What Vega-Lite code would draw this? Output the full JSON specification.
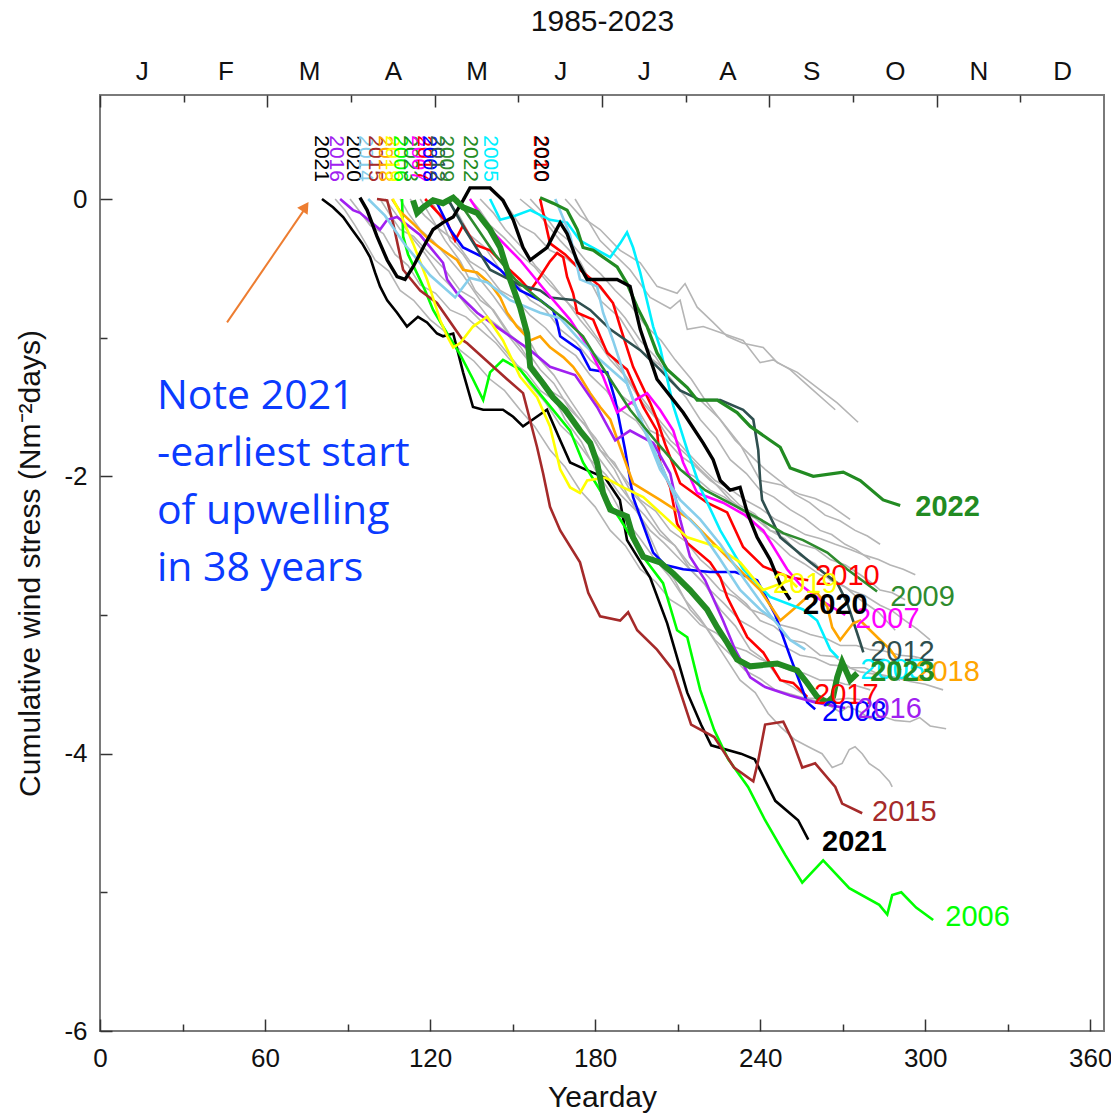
{
  "$schema": "https://vega.github.io/schema/vega-lite/v6.json",
  "width": 1004,
  "height": 936,
  "autosize": "none",
  "padding": {"left": 100, "top": 95, "right": 7, "bottom": 85},
  "background": "white",
  "config": {
    "view": {"stroke": "#7a7a7a", "strokeWidth": 2},
    "axis": {"grid": false, "domain": false, "tickColor": "#333333", "tickWidth": 1.5, "labelFont": "Liberation Sans Narrow, Liberation Sans", "labelFontSize": 26, "labelColor": "#111111", "titleFont": "Liberation Sans Narrow, Liberation Sans", "titleFontSize": 30, "titleFontWeight": "normal", "titleColor": "#111111", "labelOverlap": false, "labelFlush": false}
  },
  "datasets": {
    "lines": [
      {"year":"1989","day":169.1,"v":0},{"year":"1989","day":174.5,"v":-0.12},{"year":"1989","day":181.8,"v":-0.22},{"year":"1989","day":189.1,"v":-0.37},{"year":"1989","day":196.4,"v":-0.46},{"year":"1989","day":202.5,"v":-0.63},{"year":"1989","day":209.8,"v":-0.68},{"year":"1989","day":212.7,"v":-0.61},{"year":"1989","day":217.1,"v":-0.78},{"year":"1989","day":222.9,"v":-0.89},{"year":"1989","day":228,"v":-0.99},{"year":"1989","day":233.8,"v":-1.04},{"year":"1989","day":241.1,"v":-1.07},{"year":"1989","day":246.2,"v":-1.18},{"year":"1989","day":253.5,"v":-1.25},{"year":"1989","day":260.7,"v":-1.36},{"year":"1989","day":268,"v":-1.47},{"year":"1989","day":275.6,"v":-1.61},
      {"year":"1997","day":172.7,"v":0},{"year":"1997","day":181.8,"v":-0.3},{"year":"1997","day":192.7,"v":-0.51},{"year":"1997","day":200,"v":-0.71},{"year":"1997","day":207.3,"v":-0.79},{"year":"1997","day":210.9,"v":-0.73},{"year":"1997","day":213.5,"v":-0.94},{"year":"1997","day":219.3,"v":-0.92},{"year":"1997","day":226.5,"v":-0.97},{"year":"1997","day":233.8,"v":-1.02},{"year":"1997","day":240,"v":-1.18},{"year":"1997","day":244.7,"v":-1.16},{"year":"1997","day":250.9,"v":-1.23},{"year":"1997","day":258.2,"v":-1.36},{"year":"1997","day":267.3,"v":-1.52},
      {"year":"1995","day":152.7,"v":0},{"year":"1995","day":160,"v":-0.12},{"year":"1995","day":167.3,"v":-0.3},{"year":"1995","day":174.5,"v":-0.45},{"year":"1995","day":181.8,"v":-0.73},{"year":"1995","day":189.1,"v":-0.86},{"year":"1995","day":196.4,"v":-1.09},{"year":"1995","day":203.6,"v":-1.2},{"year":"1995","day":210.9,"v":-1.38},{"year":"1995","day":218.2,"v":-1.45},{"year":"1995","day":225.5,"v":-1.59},{"year":"1995","day":232.7,"v":-1.77},{"year":"1995","day":240,"v":-2.03},{"year":"1995","day":247.3,"v":-2.06},{"year":"1995","day":254.5,"v":-2.13},{"year":"1995","day":260,"v":-2.16},{"year":"1995","day":265.5,"v":-2.21},{"year":"1995","day":272.7,"v":-2.31},
      {"year":"1986","day":120,"v":0},{"year":"1986","day":123.5,"v":-0.12},{"year":"1986","day":127.3,"v":-0.3},{"year":"1986","day":132,"v":-0.4},{"year":"1986","day":138.2,"v":-0.58},{"year":"1986","day":143,"v":-0.7},{"year":"1986","day":149.1,"v":-0.87},{"year":"1986","day":154,"v":-0.95},{"year":"1986","day":160,"v":-1.16},{"year":"1986","day":165,"v":-1.27},{"year":"1986","day":170.9,"v":-1.45},{"year":"1986","day":176,"v":-1.6},{"year":"1986","day":181.8,"v":-1.81},{"year":"1986","day":187,"v":-1.95},{"year":"1986","day":192.7,"v":-2.17},{"year":"1986","day":198,"v":-2.35},{"year":"1986","day":203.6,"v":-2.6},{"year":"1986","day":209,"v":-2.75},{"year":"1986","day":214.5,"v":-2.96},{"year":"1986","day":220,"v":-3.08},{"year":"1986","day":225.5,"v":-3.25},{"year":"1986","day":232.7,"v":-3.47},{"year":"1986","day":238.2,"v":-3.56},{"year":"1986","day":242.9,"v":-3.71},{"year":"1986","day":247.6,"v":-3.81},{"year":"1986","day":252.7,"v":-3.9},{"year":"1986","day":257.5,"v":-3.95},{"year":"1986","day":262.5,"v":-4.0},{"year":"1986","day":266.2,"v":-4.1},{"year":"1986","day":269.8,"v":-4.07},{"year":"1986","day":272.4,"v":-3.97},{"year":"1986","day":274.5,"v":-3.95},{"year":"1986","day":277.1,"v":-4.0},{"year":"1986","day":279.6,"v":-4.07},{"year":"1986","day":283.3,"v":-4.12},{"year":"1986","day":287,"v":-4.2},{"year":"1986","day":288,"v":-4.24},
      {"year":"1990","day":109.1,"v":0},{"year":"1990","day":112,"v":-0.1},{"year":"1990","day":116.4,"v":-0.22},{"year":"1990","day":121,"v":-0.3},{"year":"1990","day":127.3,"v":-0.44},{"year":"1990","day":132,"v":-0.55},{"year":"1990","day":138.2,"v":-0.73},{"year":"1990","day":143,"v":-0.8},{"year":"1990","day":149.1,"v":-0.98},{"year":"1990","day":154,"v":-1.06},{"year":"1990","day":160,"v":-1.23},{"year":"1990","day":165,"v":-1.33},{"year":"1990","day":170.9,"v":-1.52},{"year":"1990","day":176,"v":-1.62},{"year":"1990","day":181.8,"v":-1.81},{"year":"1990","day":187,"v":-1.9},{"year":"1990","day":192.7,"v":-2.1},{"year":"1990","day":198,"v":-2.22},{"year":"1990","day":203.6,"v":-2.39},{"year":"1990","day":209,"v":-2.5},{"year":"1990","day":214.5,"v":-2.67},{"year":"1990","day":220,"v":-2.78},{"year":"1990","day":225.5,"v":-2.96},{"year":"1990","day":231,"v":-3.08},{"year":"1990","day":236.4,"v":-3.25},{"year":"1990","day":242,"v":-3.33},{"year":"1990","day":247.3,"v":-3.47},{"year":"1990","day":252,"v":-3.52},{"year":"1990","day":258.2,"v":-3.61},{"year":"1990","day":263,"v":-3.63},{"year":"1990","day":269.1,"v":-3.7},{"year":"1990","day":272,"v":-3.66},{"year":"1990","day":276.4,"v":-3.7},{"year":"1990","day":280,"v":-3.75},{"year":"1990","day":284.4,"v":-3.73},{"year":"1990","day":289,"v":-3.76},{"year":"1990","day":294.5,"v":-3.77},{"year":"1990","day":298,"v":-3.74},{"year":"1990","day":301.8,"v":-3.8},{"year":"1990","day":307.6,"v":-3.82},
      {"year":"1987","day":101.8,"v":0},{"year":"1987","day":105,"v":-0.1},{"year":"1987","day":109.1,"v":-0.22},{"year":"1987","day":114,"v":-0.27},{"year":"1987","day":120,"v":-0.4},{"year":"1987","day":125,"v":-0.5},{"year":"1987","day":130.9,"v":-0.66},{"year":"1987","day":136,"v":-0.72},{"year":"1987","day":141.8,"v":-0.87},{"year":"1987","day":147,"v":-0.95},{"year":"1987","day":152.7,"v":-1.09},{"year":"1987","day":158,"v":-1.22},{"year":"1987","day":163.6,"v":-1.38},{"year":"1987","day":169,"v":-1.45},{"year":"1987","day":174.5,"v":-1.59},{"year":"1987","day":180,"v":-1.72},{"year":"1987","day":185.5,"v":-1.88},{"year":"1987","day":191,"v":-2.02},{"year":"1987","day":196.4,"v":-2.17},{"year":"1987","day":202,"v":-2.25},{"year":"1987","day":207.3,"v":-2.39},{"year":"1987","day":213,"v":-2.47},{"year":"1987","day":218.2,"v":-2.6},{"year":"1987","day":224,"v":-2.7},{"year":"1987","day":229.1,"v":-2.82},{"year":"1987","day":235,"v":-2.92},{"year":"1987","day":240,"v":-3.04},{"year":"1987","day":245,"v":-3.08},{"year":"1987","day":250.9,"v":-3.18},{"year":"1987","day":256,"v":-3.2},{"year":"1987","day":261.8,"v":-3.29},{"year":"1987","day":267,"v":-3.3},{"year":"1987","day":272.7,"v":-3.38},{"year":"1987","day":278,"v":-3.38},{"year":"1987","day":283.6,"v":-3.43},{"year":"1987","day":289,"v":-3.45},{"year":"1987","day":294.5,"v":-3.48},{"year":"1987","day":300,"v":-3.5},{"year":"1987","day":306.5,"v":-3.54},
      {"year":"1992","day":112.7,"v":0},{"year":"1992","day":118,"v":-0.12},{"year":"1992","day":123.6,"v":-0.22},{"year":"1992","day":129,"v":-0.3},{"year":"1992","day":134.5,"v":-0.45},{"year":"1992","day":140,"v":-0.52},{"year":"1992","day":145.5,"v":-0.66},{"year":"1992","day":151,"v":-0.72},{"year":"1992","day":156.4,"v":-0.84},{"year":"1992","day":162,"v":-0.93},{"year":"1992","day":167.3,"v":-1.05},{"year":"1992","day":173,"v":-1.13},{"year":"1992","day":178.2,"v":-1.27},{"year":"1992","day":184,"v":-1.38},{"year":"1992","day":189.1,"v":-1.52},{"year":"1992","day":195,"v":-1.6},{"year":"1992","day":200,"v":-1.74},{"year":"1992","day":205,"v":-1.82},{"year":"1992","day":210.9,"v":-1.95},{"year":"1992","day":216,"v":-2.0},{"year":"1992","day":221.8,"v":-2.1},{"year":"1992","day":227,"v":-2.15},{"year":"1992","day":232.7,"v":-2.24},{"year":"1992","day":238,"v":-2.3},{"year":"1992","day":243.6,"v":-2.39},{"year":"1992","day":249,"v":-2.42},{"year":"1992","day":254.5,"v":-2.49},{"year":"1992","day":260,"v":-2.52},{"year":"1992","day":265.5,"v":-2.6},{"year":"1992","day":271,"v":-2.64},{"year":"1992","day":276.4,"v":-2.71},{"year":"1992","day":280,"v":-2.76},{"year":"1992","day":283.6,"v":-2.82},{"year":"1992","day":288,"v":-2.84},{"year":"1992","day":292.7,"v":-2.89},
      {"year":"1999","day":125.5,"v":0},{"year":"1999","day":130,"v":-0.1},{"year":"1999","day":134.5,"v":-0.26},{"year":"1999","day":140,"v":-0.35},{"year":"1999","day":145.5,"v":-0.51},{"year":"1999","day":151,"v":-0.6},{"year":"1999","day":156.4,"v":-0.73},{"year":"1999","day":162,"v":-0.8},{"year":"1999","day":167.3,"v":-0.94},{"year":"1999","day":173,"v":-1.03},{"year":"1999","day":178.2,"v":-1.16},{"year":"1999","day":184,"v":-1.26},{"year":"1999","day":189.1,"v":-1.41},{"year":"1999","day":195,"v":-1.5},{"year":"1999","day":200,"v":-1.67},{"year":"1999","day":205,"v":-1.72},{"year":"1999","day":210.9,"v":-1.85},{"year":"1999","day":216,"v":-1.92},{"year":"1999","day":221.8,"v":-2.03},{"year":"1999","day":227,"v":-2.1},{"year":"1999","day":232.7,"v":-2.21},{"year":"1999","day":238,"v":-2.27},{"year":"1999","day":243.6,"v":-2.39},{"year":"1999","day":249,"v":-2.45},{"year":"1999","day":254.5,"v":-2.57},{"year":"1999","day":260,"v":-2.63},{"year":"1999","day":265.5,"v":-2.75},{"year":"1999","day":271,"v":-2.8},{"year":"1999","day":276.4,"v":-2.89},{"year":"1999","day":283,"v":-2.98},{"year":"1999","day":289.1,"v":-3.11},
      {"year":"1985","day":90.9,"v":0},{"year":"1985","day":94,"v":-0.08},{"year":"1985","day":98.2,"v":-0.19},{"year":"1985","day":103,"v":-0.25},{"year":"1985","day":107.3,"v":-0.4},{"year":"1985","day":112,"v":-0.48},{"year":"1985","day":116.4,"v":-0.62},{"year":"1985","day":122,"v":-0.68},{"year":"1985","day":127.3,"v":-0.8},{"year":"1985","day":133,"v":-0.85},{"year":"1985","day":138.2,"v":-0.94},{"year":"1985","day":144,"v":-1.04},{"year":"1985","day":149.1,"v":-1.16},{"year":"1985","day":155,"v":-1.25},{"year":"1985","day":160,"v":-1.38},{"year":"1985","day":165,"v":-1.45},{"year":"1985","day":170.9,"v":-1.59},{"year":"1985","day":176,"v":-1.72},{"year":"1985","day":181.8,"v":-1.88},{"year":"1985","day":187,"v":-2.02},{"year":"1985","day":192.7,"v":-2.17},{"year":"1985","day":198,"v":-2.28},{"year":"1985","day":203.6,"v":-2.42},{"year":"1985","day":209,"v":-2.5},{"year":"1985","day":214.5,"v":-2.64},{"year":"1985","day":220,"v":-2.7},{"year":"1985","day":225.5,"v":-2.82},{"year":"1985","day":231,"v":-2.87},{"year":"1985","day":236.4,"v":-2.96},{"year":"1985","day":242,"v":-3.0},{"year":"1985","day":247.3,"v":-3.07},{"year":"1985","day":253,"v":-3.1},{"year":"1985","day":258.2,"v":-3.14},{"year":"1985","day":264,"v":-3.17},{"year":"1985","day":269.1,"v":-3.22},{"year":"1985","day":275,"v":-3.22},{"year":"1985","day":280,"v":-3.25},{"year":"1985","day":285,"v":-3.26},{"year":"1985","day":290.9,"v":-3.29},{"year":"1985","day":296,"v":-3.3},{"year":"1985","day":300,"v":-3.32},
      {"year":"2000","day":145.5,"v":0},{"year":"2000","day":149,"v":-0.08},{"year":"2000","day":152.7,"v":-0.19},{"year":"2000","day":158,"v":-0.25},{"year":"2000","day":163.6,"v":-0.37},{"year":"2000","day":169,"v":-0.42},{"year":"2000","day":174.5,"v":-0.51},{"year":"2000","day":180,"v":-0.6},{"year":"2000","day":185.5,"v":-0.73},{"year":"2000","day":191,"v":-0.86},{"year":"2000","day":196.4,"v":-1.02},{"year":"2000","day":202,"v":-1.14},{"year":"2000","day":207.3,"v":-1.3},{"year":"2000","day":213,"v":-1.43},{"year":"2000","day":218.2,"v":-1.59},{"year":"2000","day":224,"v":-1.72},{"year":"2000","day":229.1,"v":-1.88},{"year":"2000","day":235,"v":-1.98},{"year":"2000","day":240,"v":-2.1},{"year":"2000","day":245,"v":-2.15},{"year":"2000","day":250.9,"v":-2.24},{"year":"2000","day":256,"v":-2.3},{"year":"2000","day":261.8,"v":-2.39},{"year":"2000","day":266,"v":-2.42},{"year":"2000","day":270.9,"v":-2.49},{"year":"2000","day":275,"v":-2.53},{"year":"2000","day":280,"v":-2.6},
      {"year":"1988","day":85.5,"v":0},{"year":"1988","day":89,"v":-0.08},{"year":"1988","day":92.7,"v":-0.19},{"year":"1988","day":96,"v":-0.3},{"year":"1988","day":100,"v":-0.44},{"year":"1988","day":105,"v":-0.52},{"year":"1988","day":109.1,"v":-0.66},{"year":"1988","day":114,"v":-0.73},{"year":"1988","day":120,"v":-0.87},{"year":"1988","day":125,"v":-0.95},{"year":"1988","day":130.9,"v":-1.09},{"year":"1988","day":136,"v":-1.17},{"year":"1988","day":141.8,"v":-1.3},{"year":"1988","day":147,"v":-1.38},{"year":"1988","day":152.7,"v":-1.52},{"year":"1988","day":158,"v":-1.64},{"year":"1988","day":163.6,"v":-1.81},{"year":"1988","day":169,"v":-1.93},{"year":"1988","day":174.5,"v":-2.1},{"year":"1988","day":180,"v":-2.22},{"year":"1988","day":185.5,"v":-2.39},{"year":"1988","day":191,"v":-2.5},{"year":"1988","day":196.4,"v":-2.67},{"year":"1988","day":202,"v":-2.76},{"year":"1988","day":207.3,"v":-2.89},{"year":"1988","day":213,"v":-2.96},{"year":"1988","day":218.2,"v":-3.07},{"year":"1988","day":224,"v":-3.13},{"year":"1988","day":229.1,"v":-3.22},{"year":"1988","day":235,"v":-3.26},{"year":"1988","day":240,"v":-3.32},{"year":"1988","day":245,"v":-3.35},{"year":"1988","day":250.9,"v":-3.4},{"year":"1988","day":256,"v":-3.42},{"year":"1988","day":261.8,"v":-3.47},{"year":"1988","day":266,"v":-3.47},{"year":"1988","day":270.9,"v":-3.5},{"year":"1988","day":275,"v":-3.51},{"year":"1988","day":280,"v":-3.54},
      {"year":"2002","day":134.5,"v":0},{"year":"2002","day":138,"v":-0.08},{"year":"2002","day":141.8,"v":-0.19},{"year":"2002","day":147,"v":-0.28},{"year":"2002","day":152.7,"v":-0.4},{"year":"2002","day":158,"v":-0.49},{"year":"2002","day":163.6,"v":-0.62},{"year":"2002","day":169,"v":-0.72},{"year":"2002","day":174.5,"v":-0.87},{"year":"2002","day":180,"v":-1.0},{"year":"2002","day":185.5,"v":-1.16},{"year":"2002","day":191,"v":-1.28},{"year":"2002","day":196.4,"v":-1.45},{"year":"2002","day":202,"v":-1.58},{"year":"2002","day":207.3,"v":-1.74},{"year":"2002","day":213,"v":-1.84},{"year":"2002","day":218.2,"v":-1.95},{"year":"2002","day":224,"v":-2.06},{"year":"2002","day":229.1,"v":-2.17},{"year":"2002","day":235,"v":-2.26},{"year":"2002","day":240,"v":-2.39},{"year":"2002","day":245,"v":-2.46},{"year":"2002","day":250.9,"v":-2.57},{"year":"2002","day":256,"v":-2.63},{"year":"2002","day":261.8,"v":-2.71},{"year":"2002","day":267,"v":-2.75},{"year":"2002","day":272.7,"v":-2.82},{"year":"2002","day":278,"v":-2.86},{"year":"2002","day":283.6,"v":-2.93},{"year":"2002","day":288,"v":-2.97},{"year":"2002","day":292.7,"v":-3.04},{"year":"2002","day":297,"v":-3.1},{"year":"2002","day":301.8,"v":-3.18},
      {"year":"1993","day":116.4,"v":0},{"year":"1993","day":121,"v":-0.15},{"year":"1993","day":125.5,"v":-0.3},{"year":"1993","day":131,"v":-0.45},{"year":"1993","day":136.4,"v":-0.66},{"year":"1993","day":142,"v":-0.78},{"year":"1993","day":147.3,"v":-0.94},{"year":"1993","day":153,"v":-1.07},{"year":"1993","day":158.2,"v":-1.23},{"year":"1993","day":164,"v":-1.39},{"year":"1993","day":169.1,"v":-1.59},{"year":"1993","day":175,"v":-1.75},{"year":"1993","day":180,"v":-1.95},{"year":"1993","day":185,"v":-2.1},{"year":"1993","day":190.9,"v":-2.31},{"year":"1993","day":196,"v":-2.44},{"year":"1993","day":201.8,"v":-2.6},{"year":"1993","day":207,"v":-2.72},{"year":"1993","day":212.7,"v":-2.89},{"year":"1993","day":218,"v":-3.02},{"year":"1993","day":223.6,"v":-3.18},{"year":"1993","day":229,"v":-3.28},{"year":"1993","day":234.5,"v":-3.4},{"year":"1993","day":240,"v":-3.46},{"year":"1993","day":245.5,"v":-3.54},{"year":"1993","day":251,"v":-3.57},{"year":"1993","day":256.4,"v":-3.6},{"year":"1993","day":262,"v":-3.6},{"year":"1993","day":267.3,"v":-3.61},{"year":"1993","day":272,"v":-3.6},{"year":"1993","day":276.4,"v":-3.61},
      {"year":"2001","day":156.4,"v":0},{"year":"2001","day":161,"v":-0.1},{"year":"2001","day":165.5,"v":-0.22},{"year":"2001","day":171,"v":-0.31},{"year":"2001","day":176.4,"v":-0.44},{"year":"2001","day":182,"v":-0.54},{"year":"2001","day":187.3,"v":-0.66},{"year":"2001","day":193,"v":-0.77},{"year":"2001","day":198.2,"v":-0.91},{"year":"2001","day":204,"v":-1.02},{"year":"2001","day":209.1,"v":-1.16},{"year":"2001","day":215,"v":-1.3},{"year":"2001","day":220,"v":-1.45},{"year":"2001","day":225,"v":-1.58},{"year":"2001","day":230.9,"v":-1.74},{"year":"2001","day":236,"v":-1.84},{"year":"2001","day":241.8,"v":-1.95},{"year":"2001","day":247,"v":-2.03},{"year":"2001","day":252.7,"v":-2.13},{"year":"2001","day":258,"v":-2.19},{"year":"2001","day":263.6,"v":-2.28},{"year":"2001","day":269,"v":-2.32},{"year":"2001","day":274.5,"v":-2.39},{"year":"2001","day":279,"v":-2.43},{"year":"2001","day":283.6,"v":-2.49},
      {"year":"1991","day":103.6,"v":0},{"year":"1991","day":108,"v":-0.12},{"year":"1991","day":112.7,"v":-0.26},{"year":"1991","day":118,"v":-0.39},{"year":"1991","day":123.6,"v":-0.55},{"year":"1991","day":129,"v":-0.66},{"year":"1991","day":134.5,"v":-0.8},{"year":"1991","day":140,"v":-0.91},{"year":"1991","day":145.5,"v":-1.05},{"year":"1991","day":151,"v":-1.18},{"year":"1991","day":156.4,"v":-1.34},{"year":"1991","day":162,"v":-1.47},{"year":"1991","day":167.3,"v":-1.63},{"year":"1991","day":173,"v":-1.74},{"year":"1991","day":178.2,"v":-1.88},{"year":"1991","day":184,"v":-1.99},{"year":"1991","day":189.1,"v":-2.13},{"year":"1991","day":195,"v":-2.25},{"year":"1991","day":200,"v":-2.39},{"year":"1991","day":205,"v":-2.48},{"year":"1991","day":210.9,"v":-2.6},{"year":"1991","day":216,"v":-2.7},{"year":"1991","day":221.8,"v":-2.82},{"year":"1991","day":227,"v":-2.92},{"year":"1991","day":232.7,"v":-3.04},{"year":"1991","day":238,"v":-3.1},{"year":"1991","day":243.6,"v":-3.18},{"year":"1991","day":249,"v":-3.23},{"year":"1991","day":254.5,"v":-3.29},{"year":"1991","day":260,"v":-3.31},{"year":"1991","day":265.5,"v":-3.36},{"year":"1991","day":271,"v":-3.37},{"year":"1991","day":276.4,"v":-3.41},{"year":"1991","day":283,"v":-3.43},{"year":"1991","day":290.9,"v":-3.47},
      {"year":"2004","day":138.2,"v":0},{"year":"2004","day":143,"v":-0.1},{"year":"2004","day":147.3,"v":-0.22},{"year":"2004","day":153,"v":-0.34},{"year":"2004","day":158.2,"v":-0.48},{"year":"2004","day":164,"v":-0.6},{"year":"2004","day":169.1,"v":-0.73},{"year":"2004","day":175,"v":-0.84},{"year":"2004","day":180,"v":-0.98},{"year":"2004","day":185,"v":-1.11},{"year":"2004","day":190.9,"v":-1.27},{"year":"2004","day":196,"v":-1.41},{"year":"2004","day":201.8,"v":-1.56},{"year":"2004","day":207,"v":-1.68},{"year":"2004","day":212.7,"v":-1.81},{"year":"2004","day":218,"v":-1.92},{"year":"2004","day":223.6,"v":-2.03},{"year":"2004","day":229,"v":-2.09},{"year":"2004","day":234.5,"v":-2.17},{"year":"2004","day":240,"v":-2.23},{"year":"2004","day":245.5,"v":-2.31},{"year":"2004","day":251,"v":-2.36},{"year":"2004","day":256.4,"v":-2.42},{"year":"2004","day":262,"v":-2.45},{"year":"2004","day":267.3,"v":-2.49},{"year":"2004","day":273,"v":-2.53},{"year":"2004","day":278.2,"v":-2.57},{"year":"2004","day":283,"v":-2.6},{"year":"2004","day":287.3,"v":-2.64},{"year":"2004","day":292,"v":-2.67},{"year":"2004","day":296.4,"v":-2.71},

      {"year":"2021","day":80.7,"v":0},{"year":"2021","day":84.7,"v":-0.06},{"year":"2021","day":88.4,"v":-0.13},{"year":"2021","day":91.6,"v":-0.22},{"year":"2021","day":95.3,"v":-0.32},{"year":"2021","day":98.2,"v":-0.42},{"year":"2021","day":100,"v":-0.53},{"year":"2021","day":101.8,"v":-0.63},{"year":"2021","day":104.4,"v":-0.73},{"year":"2021","day":108,"v":-0.82},{"year":"2021","day":111.6,"v":-0.92},{"year":"2021","day":115.6,"v":-0.85},{"year":"2021","day":118.9,"v":-0.89},{"year":"2021","day":122.5,"v":-0.97},{"year":"2021","day":124.7,"v":-0.99},{"year":"2021","day":128.4,"v":-0.97},{"year":"2021","day":132,"v":-1.25},{"year":"2021","day":135.6,"v":-1.5},{"year":"2021","day":139.3,"v":-1.52},{"year":"2021","day":146.5,"v":-1.52},{"year":"2021","day":150.2,"v":-1.57},{"year":"2021","day":153.8,"v":-1.64},{"year":"2021","day":161,"v":-1.54},{"year":"2021","day":162.5,"v":-1.52},{"year":"2021","day":167.3,"v":-1.74},{"year":"2021","day":170.9,"v":-1.9},{"year":"2021","day":176.4,"v":-1.95},{"year":"2021","day":183.6,"v":-2.01},{"year":"2021","day":189,"v":-2.17},{"year":"2021","day":191.6,"v":-2.46},{"year":"2021","day":200,"v":-2.73},{"year":"2021","day":206.2,"v":-3.06},{"year":"2021","day":213.5,"v":-3.56},{"year":"2021","day":218.5,"v":-3.79},{"year":"2021","day":222.2,"v":-3.94},{"year":"2021","day":233,"v":-4.0},{"year":"2021","day":238,"v":-4.04},{"year":"2021","day":245.5,"v":-4.34},{"year":"2021","day":253.8,"v":-4.48},{"year":"2021","day":257.5,"v":-4.62},

      {"year":"2006","day":109.8,"v":0},{"year":"2006","day":110.2,"v":-0.27},{"year":"2006","day":112,"v":-0.4},{"year":"2006","day":118.2,"v":-0.66},{"year":"2006","day":121.1,"v":-0.8},{"year":"2006","day":126.2,"v":-0.97},{"year":"2006","day":130.9,"v":-1.12},{"year":"2006","day":135.6,"v":-1.3},{"year":"2006","day":139.3,"v":-1.45},{"year":"2006","day":141.8,"v":-1.25},{"year":"2006","day":146.5,"v":-1.16},{"year":"2006","day":152.7,"v":-1.23},{"year":"2006","day":161.8,"v":-1.45},{"year":"2006","day":170.9,"v":-1.67},{"year":"2006","day":175.6,"v":-1.9},{"year":"2006","day":181.8,"v":-2.1},{"year":"2006","day":189.1,"v":-2.31},{"year":"2006","day":198.2,"v":-2.6},{"year":"2006","day":204.7,"v":-2.77},{"year":"2006","day":209.8,"v":-3.11},{"year":"2006","day":213.5,"v":-3.16},{"year":"2006","day":218.2,"v":-3.54},{"year":"2006","day":223.3,"v":-3.83},{"year":"2006","day":228.4,"v":-4.04},{"year":"2006","day":235.6,"v":-4.24},{"year":"2006","day":241.8,"v":-4.48},{"year":"2006","day":249.1,"v":-4.73},{"year":"2006","day":255.3,"v":-4.93},{"year":"2006","day":262.9,"v":-4.77},{"year":"2006","day":272.4,"v":-4.97},{"year":"2006","day":283.3,"v":-5.09},{"year":"2006","day":286.2,"v":-5.16},{"year":"2006","day":288,"v":-5.02},{"year":"2006","day":291.3,"v":-5.0},{"year":"2006","day":296.7,"v":-5.11},{"year":"2006","day":302.9,"v":-5.2},

      {"year":"2015","day":100.7,"v":0},{"year":"2015","day":104.4,"v":-0.01},{"year":"2015","day":106.5,"v":-0.17},{"year":"2015","day":110.2,"v":-0.51},{"year":"2015","day":116.4,"v":-0.66},{"year":"2015","day":122.5,"v":-0.75},{"year":"2015","day":132,"v":-1.02},{"year":"2015","day":133.5,"v":-1.04},{"year":"2015","day":148,"v":-1.3},{"year":"2015","day":153.8,"v":-1.4},{"year":"2015","day":158.9,"v":-1.79},{"year":"2015","day":161.1,"v":-1.98},{"year":"2015","day":163.6,"v":-2.22},{"year":"2015","day":167.3,"v":-2.39},{"year":"2015","day":174.5,"v":-2.62},{"year":"2015","day":177.5,"v":-2.84},{"year":"2015","day":181.8,"v":-3.01},{"year":"2015","day":189.1,"v":-3.04},{"year":"2015","day":192,"v":-2.98},{"year":"2015","day":195.3,"v":-3.11},{"year":"2015","day":202.5,"v":-3.25},{"year":"2015","day":208.4,"v":-3.4},{"year":"2015","day":214.9,"v":-3.79},{"year":"2015","day":223.3,"v":-3.88},{"year":"2015","day":230.5,"v":-4.1},{"year":"2015","day":237.5,"v":-4.2},{"year":"2015","day":239.3,"v":-4.05},{"year":"2015","day":241.8,"v":-3.79},{"year":"2015","day":248.4,"v":-3.77},{"year":"2015","day":251.6,"v":-3.9},{"year":"2015","day":255.3,"v":-4.1},{"year":"2015","day":260,"v":-4.07},{"year":"2015","day":267.3,"v":-4.24},{"year":"2015","day":269.8,"v":-4.36},{"year":"2015","day":277.1,"v":-4.43},

      {"year":"2022","day":160,"v":0.01},{"year":"2022","day":164.7,"v":-0.03},{"year":"2022","day":169.8,"v":-0.08},{"year":"2022","day":173.5,"v":-0.22},{"year":"2022","day":175.6,"v":-0.35},{"year":"2022","day":179.3,"v":-0.37},{"year":"2022","day":184.4,"v":-0.44},{"year":"2022","day":188,"v":-0.49},{"year":"2022","day":191.6,"v":-0.61},{"year":"2022","day":195.3,"v":-0.78},{"year":"2022","day":198.9,"v":-0.92},{"year":"2022","day":202.5,"v":-1.11},{"year":"2022","day":206.2,"v":-1.23},{"year":"2022","day":213.5,"v":-1.36},{"year":"2022","day":217.1,"v":-1.45},{"year":"2022","day":224.4,"v":-1.45},{"year":"2022","day":231.6,"v":-1.54},{"year":"2022","day":236.4,"v":-1.64},{"year":"2022","day":243.6,"v":-1.74},{"year":"2022","day":247.3,"v":-1.79},{"year":"2022","day":250.9,"v":-1.94},{"year":"2022","day":259.3,"v":-2.0},{"year":"2022","day":270.2,"v":-1.97},{"year":"2022","day":276.4,"v":-2.03},{"year":"2022","day":284.7,"v":-2.17},{"year":"2022","day":290.9,"v":-2.21},

      {"year":"2023","day":113.8,"v":-0.01},{"year":"2023","day":115.3,"v":-0.1},{"year":"2023","day":117.5,"v":-0.06},{"year":"2023","day":121.1,"v":-0.01},{"year":"2023","day":124.7,"v":-0.03},{"year":"2023","day":128.4,"v":0.01},{"year":"2023","day":132,"v":-0.06},{"year":"2023","day":137.1,"v":-0.1},{"year":"2023","day":141.8,"v":-0.22},{"year":"2023","day":145.5,"v":-0.35},{"year":"2023","day":149.1,"v":-0.58},{"year":"2023","day":152.7,"v":-0.78},{"year":"2023","day":155.3,"v":-0.97},{"year":"2023","day":156.4,"v":-1.21},{"year":"2023","day":161.1,"v":-1.33},{"year":"2023","day":164.7,"v":-1.43},{"year":"2023","day":169.1,"v":-1.52},{"year":"2023","day":174.5,"v":-1.67},{"year":"2023","day":178.2,"v":-1.76},{"year":"2023","day":180.7,"v":-1.9},{"year":"2023","day":182.9,"v":-2.12},{"year":"2023","day":185.5,"v":-2.24},{"year":"2023","day":191.6,"v":-2.29},{"year":"2023","day":193.8,"v":-2.44},{"year":"2023","day":197.5,"v":-2.58},{"year":"2023","day":203.6,"v":-2.62},{"year":"2023","day":208.4,"v":-2.7},{"year":"2023","day":214.5,"v":-2.82},{"year":"2023","day":220.7,"v":-2.96},{"year":"2023","day":224.4,"v":-3.09},{"year":"2023","day":228,"v":-3.2},{"year":"2023","day":231.6,"v":-3.32},{"year":"2023","day":236.4,"v":-3.37},{"year":"2023","day":246.2,"v":-3.35},{"year":"2023","day":253.5,"v":-3.4},{"year":"2023","day":257.1,"v":-3.49},{"year":"2023","day":260.7,"v":-3.59},{"year":"2023","day":264.4,"v":-3.63},{"year":"2023","day":266.5,"v":-3.59},{"year":"2023","day":268,"v":-3.45},{"year":"2023","day":269.8,"v":-3.34},{"year":"2023","day":272.7,"v":-3.47},{"year":"2023","day":275.3,"v":-3.42},

      {"year":"2020","day":94.5,"v":0.01},{"year":"2020","day":97.1,"v":-0.08},{"year":"2020","day":100.7,"v":-0.27},{"year":"2020","day":104.4,"v":-0.44},{"year":"2020","day":108,"v":-0.56},{"year":"2020","day":110.9,"v":-0.58},{"year":"2020","day":113.8,"v":-0.49},{"year":"2020","day":117.5,"v":-0.35},{"year":"2020","day":121.1,"v":-0.22},{"year":"2020","day":124.7,"v":-0.17},{"year":"2020","day":128.4,"v":-0.13},{"year":"2020","day":132,"v":-0.01},{"year":"2020","day":134.5,"v":0.08},{"year":"2020","day":141.8,"v":0.08},{"year":"2020","day":146.5,"v":-0.01},{"year":"2020","day":150.2,"v":-0.15},{"year":"2020","day":153.8,"v":-0.35},{"year":"2020","day":156.4,"v":-0.44},{"year":"2020","day":162.5,"v":-0.35},{"year":"2020","day":167.3,"v":-0.17},{"year":"2020","day":169.8,"v":-0.25},{"year":"2020","day":173.5,"v":-0.45},{"year":"2020","day":177.1,"v":-0.58},{"year":"2020","day":188,"v":-0.58},{"year":"2020","day":192.7,"v":-0.63},{"year":"2020","day":196.4,"v":-0.94},{"year":"2020","day":202.5,"v":-1.3},{"year":"2020","day":212,"v":-1.54},{"year":"2020","day":219.3,"v":-1.76},{"year":"2020","day":222.9,"v":-1.88},{"year":"2020","day":225.5,"v":-2.03},{"year":"2020","day":229.1,"v":-2.1},{"year":"2020","day":232.7,"v":-2.08},{"year":"2020","day":235.3,"v":-2.26},{"year":"2020","day":238.9,"v":-2.44},{"year":"2020","day":243.6,"v":-2.6},{"year":"2020","day":247.3,"v":-2.78},{"year":"2020","day":250.9,"v":-2.89},

      {"year":"2010","day":160,"v":0},{"year":"2010","day":163.6,"v":-0.32},{"year":"2010","day":169.1,"v":-0.4},{"year":"2010","day":174.5,"v":-0.51},{"year":"2010","day":181.8,"v":-0.63},{"year":"2010","day":186.5,"v":-0.75},{"year":"2010","day":189.1,"v":-0.92},{"year":"2010","day":193.8,"v":-1.21},{"year":"2010","day":200,"v":-1.47},{"year":"2010","day":202.5,"v":-1.59},{"year":"2010","day":205.5,"v":-1.77},{"year":"2010","day":210.9,"v":-2.05},{"year":"2010","day":220.7,"v":-2.19},{"year":"2010","day":228,"v":-2.26},{"year":"2010","day":233.8,"v":-2.51},{"year":"2010","day":241.1,"v":-2.65},{"year":"2010","day":250.9,"v":-2.73},{"year":"2010","day":257.5,"v":-2.75},

      {"year":"2017","day":118.2,"v":0},{"year":"2017","day":126.2,"v":-0.17},{"year":"2017","day":129.1,"v":-0.3},{"year":"2017","day":132,"v":-0.19},{"year":"2017","day":136.4,"v":-0.33},{"year":"2017","day":141.8,"v":-0.37},{"year":"2017","day":147.3,"v":-0.48},{"year":"2017","day":152.7,"v":-0.58},{"year":"2017","day":156.4,"v":-0.66},{"year":"2017","day":160,"v":-0.56},{"year":"2017","day":163.6,"v":-0.45},{"year":"2017","day":166.2,"v":-0.39},{"year":"2017","day":168.4,"v":-0.42},{"year":"2017","day":169.8,"v":-0.56},{"year":"2017","day":172,"v":-0.68},{"year":"2017","day":173.5,"v":-0.82},{"year":"2017","day":179.3,"v":-0.87},{"year":"2017","day":181.8,"v":-0.99},{"year":"2017","day":184.4,"v":-1.11},{"year":"2017","day":191.6,"v":-1.23},{"year":"2017","day":197.5,"v":-1.5},{"year":"2017","day":202.5,"v":-1.67},{"year":"2017","day":203.6,"v":-1.9},{"year":"2017","day":207.3,"v":-2.08},{"year":"2017","day":209.8,"v":-2.34},{"year":"2017","day":213.5,"v":-2.48},{"year":"2017","day":221.8,"v":-2.62},{"year":"2017","day":225.5,"v":-2.73},{"year":"2017","day":228,"v":-2.87},{"year":"2017","day":235.3,"v":-3.16},{"year":"2017","day":241.1,"v":-3.27},{"year":"2017","day":247.3,"v":-3.47},{"year":"2017","day":252,"v":-3.49},{"year":"2017","day":257.1,"v":-3.59},

      {"year":"2008","day":121.8,"v":0},{"year":"2008","day":127.3,"v":-0.22},{"year":"2008","day":132,"v":-0.35},{"year":"2008","day":139.3,"v":-0.42},{"year":"2008","day":145.5,"v":-0.51},{"year":"2008","day":152.7,"v":-0.66},{"year":"2008","day":160,"v":-0.73},{"year":"2008","day":164.7,"v":-0.8},{"year":"2008","day":166.2,"v":-0.89},{"year":"2008","day":167.3,"v":-0.99},{"year":"2008","day":174.5,"v":-1.09},{"year":"2008","day":178.2,"v":-1.23},{"year":"2008","day":184.4,"v":-1.25},{"year":"2008","day":187.3,"v":-1.45},{"year":"2008","day":190.9,"v":-1.81},{"year":"2008","day":193.8,"v":-2.15},{"year":"2008","day":201.1,"v":-2.55},{"year":"2008","day":205.5,"v":-2.64},{"year":"2008","day":212,"v":-2.67},{"year":"2008","day":221.8,"v":-2.69},{"year":"2008","day":230.9,"v":-2.69},{"year":"2008","day":238.9,"v":-2.75},{"year":"2008","day":245.5,"v":-3.0},{"year":"2008","day":250.9,"v":-3.3},{"year":"2008","day":254.5,"v":-3.49},{"year":"2008","day":257.1,"v":-3.63},{"year":"2008","day":260,"v":-3.68},

      {"year":"2012","day":126.5,"v":0},{"year":"2012","day":132.7,"v":-0.22},{"year":"2012","day":141.8,"v":-0.51},{"year":"2012","day":152.7,"v":-0.62},{"year":"2012","day":160,"v":-0.66},{"year":"2012","day":163.6,"v":-0.71},{"year":"2012","day":172.7,"v":-0.73},{"year":"2012","day":178.2,"v":-0.8},{"year":"2012","day":185.5,"v":-0.94},{"year":"2012","day":196.4,"v":-1.09},{"year":"2012","day":203.6,"v":-1.23},{"year":"2012","day":210.9,"v":-1.38},{"year":"2012","day":218.2,"v":-1.45},{"year":"2012","day":225.5,"v":-1.45},{"year":"2012","day":233.8,"v":-1.52},{"year":"2012","day":237.5,"v":-1.59},{"year":"2012","day":239.3,"v":-1.81},{"year":"2012","day":240,"v":-2.03},{"year":"2012","day":240.7,"v":-2.17},{"year":"2012","day":247.3,"v":-2.44},{"year":"2012","day":258.2,"v":-2.62},{"year":"2012","day":268,"v":-2.77},{"year":"2012","day":271.6,"v":-2.91},{"year":"2012","day":276.4,"v":-3.2},{"year":"2012","day":277.5,"v":-3.27},

      {"year":"2007","day":134.5,"v":0},{"year":"2007","day":141.8,"v":-0.22},{"year":"2007","day":152.7,"v":-0.44},{"year":"2007","day":161.8,"v":-0.66},{"year":"2007","day":170.9,"v":-0.87},{"year":"2007","day":178.2,"v":-1.09},{"year":"2007","day":182.9,"v":-1.28},{"year":"2007","day":188,"v":-1.54},{"year":"2007","day":194.5,"v":-1.45},{"year":"2007","day":198.9,"v":-1.4},{"year":"2007","day":203.6,"v":-1.52},{"year":"2007","day":208.4,"v":-1.67},{"year":"2007","day":212,"v":-1.9},{"year":"2007","day":217.1,"v":-2.12},{"year":"2007","day":226.5,"v":-2.19},{"year":"2007","day":234.5,"v":-2.28},{"year":"2007","day":241.1,"v":-2.39},{"year":"2007","day":249.8,"v":-2.67},{"year":"2007","day":254.5,"v":-2.78},{"year":"2007","day":261.8,"v":-2.89},{"year":"2007","day":270.9,"v":-3.0},

      {"year":"2018","day":106.2,"v":0},{"year":"2018","day":109.1,"v":-0.09},{"year":"2018","day":114.5,"v":-0.19},{"year":"2018","day":120,"v":-0.3},{"year":"2018","day":124.7,"v":-0.37},{"year":"2018","day":129.8,"v":-0.44},{"year":"2018","day":132,"v":-0.51},{"year":"2018","day":137.1,"v":-0.53},{"year":"2018","day":141.8,"v":-0.61},{"year":"2018","day":145.5,"v":-0.71},{"year":"2018","day":148,"v":-0.82},{"year":"2018","day":151.6,"v":-0.92},{"year":"2018","day":156.4,"v":-1.02},{"year":"2018","day":160,"v":-0.99},{"year":"2018","day":163.6,"v":-1.07},{"year":"2018","day":168.4,"v":-1.14},{"year":"2018","day":172,"v":-1.21},{"year":"2018","day":174.5,"v":-1.28},{"year":"2018","day":178.2,"v":-1.4},{"year":"2018","day":181.8,"v":-1.5},{"year":"2018","day":185.5,"v":-1.59},{"year":"2018","day":189.1,"v":-1.79},{"year":"2018","day":193.8,"v":-2.05},{"year":"2018","day":203.6,"v":-2.17},{"year":"2018","day":214.5,"v":-2.31},{"year":"2018","day":222.9,"v":-2.48},{"year":"2018","day":233.8,"v":-2.7},{"year":"2018","day":240,"v":-2.82},{"year":"2018","day":247.3,"v":-3.04},{"year":"2018","day":252,"v":-2.96},{"year":"2018","day":257.1,"v":-2.87},{"year":"2018","day":260.7,"v":-2.84},{"year":"2018","day":264.4,"v":-2.94},{"year":"2018","day":266.2,"v":-3.09},{"year":"2018","day":269.1,"v":-3.18},{"year":"2018","day":273.8,"v":-3.06},{"year":"2018","day":276.4,"v":-3.04},{"year":"2018","day":283.6,"v":-3.18},{"year":"2018","day":287.3,"v":-3.25},{"year":"2018","day":289.8,"v":-3.32},{"year":"2018","day":290.9,"v":-3.4},

      {"year":"2016","day":87.3,"v":0},{"year":"2016","day":92,"v":-0.08},{"year":"2016","day":94.5,"v":-0.1},{"year":"2016","day":101.8,"v":-0.22},{"year":"2016","day":104.4,"v":-0.15},{"year":"2016","day":108,"v":-0.13},{"year":"2016","day":116.4,"v":-0.26},{"year":"2016","day":124.7,"v":-0.46},{"year":"2016","day":126.2,"v":-0.58},{"year":"2016","day":129.8,"v":-0.68},{"year":"2016","day":137.1,"v":-0.82},{"year":"2016","day":145.5,"v":-0.94},{"year":"2016","day":156.4,"v":-1.09},{"year":"2016","day":163.6,"v":-1.21},{"year":"2016","day":172.7,"v":-1.27},{"year":"2016","day":180.7,"v":-1.5},{"year":"2016","day":187.3,"v":-1.74},{"year":"2016","day":192.7,"v":-1.67},{"year":"2016","day":201.1,"v":-1.76},{"year":"2016","day":207.3,"v":-1.98},{"year":"2016","day":210.9,"v":-2.31},{"year":"2016","day":214.5,"v":-2.58},{"year":"2016","day":220,"v":-2.75},{"year":"2016","day":226.5,"v":-3.04},{"year":"2016","day":230.9,"v":-3.25},{"year":"2016","day":236.4,"v":-3.45},{"year":"2016","day":241.8,"v":-3.52},{"year":"2016","day":250.9,"v":-3.58},{"year":"2016","day":260,"v":-3.63},{"year":"2016","day":270.9,"v":-3.67},

      {"year":"2005","day":141.8,"v":0},{"year":"2005","day":145.5,"v":-0.15},{"year":"2005","day":150.9,"v":-0.12},{"year":"2005","day":156.4,"v":-0.08},{"year":"2005","day":163.6,"v":-0.15},{"year":"2005","day":169.8,"v":-0.17},{"year":"2005","day":174.5,"v":-0.3},{"year":"2005","day":185.5,"v":-0.42},{"year":"2005","day":189.1,"v":-0.32},{"year":"2005","day":191.6,"v":-0.24},{"year":"2005","day":193.8,"v":-0.35},{"year":"2005","day":196.4,"v":-0.53},{"year":"2005","day":201.1,"v":-0.92},{"year":"2005","day":203.6,"v":-1.07},{"year":"2005","day":208.4,"v":-1.49},{"year":"2005","day":213.5,"v":-1.81},{"year":"2005","day":218.2,"v":-2.08},{"year":"2005","day":225.5,"v":-2.39},{"year":"2005","day":233.8,"v":-2.67},{"year":"2005","day":243.6,"v":-2.87},{"year":"2005","day":255.6,"v":-2.96},{"year":"2005","day":260.7,"v":-3.04},{"year":"2005","day":265.5,"v":-3.25},{"year":"2005","day":268.4,"v":-3.31},

      {"year":"2019","day":106.5,"v":0},{"year":"2019","day":109.1,"v":-0.1},{"year":"2019","day":113.8,"v":-0.32},{"year":"2019","day":118.9,"v":-0.58},{"year":"2019","day":123.6,"v":-0.87},{"year":"2019","day":126.2,"v":-0.99},{"year":"2019","day":128.4,"v":-1.07},{"year":"2019","day":130.9,"v":-1.04},{"year":"2019","day":135.6,"v":-0.92},{"year":"2019","day":140.7,"v":-0.85},{"year":"2019","day":146.5,"v":-1.02},{"year":"2019","day":152.7,"v":-1.28},{"year":"2019","day":158.9,"v":-1.43},{"year":"2019","day":163.6,"v":-1.64},{"year":"2019","day":167.3,"v":-1.95},{"year":"2019","day":170.9,"v":-2.08},{"year":"2019","day":174.5,"v":-2.12},{"year":"2019","day":177.1,"v":-2.03},{"year":"2019","day":183.6,"v":-2.01},{"year":"2019","day":190.2,"v":-2.08},{"year":"2019","day":197.5,"v":-2.15},{"year":"2019","day":203.6,"v":-2.26},{"year":"2019","day":213.5,"v":-2.44},{"year":"2019","day":224.4,"v":-2.51},{"year":"2019","day":232.7,"v":-2.62},{"year":"2019","day":241.1,"v":-2.82},{"year":"2019","day":250.9,"v":-2.75},{"year":"2019","day":253.5,"v":-2.8},

      {"year":"2014","day":97.5,"v":0},{"year":"2014","day":103.6,"v":-0.12},{"year":"2014","day":110.9,"v":-0.33},{"year":"2014","day":120,"v":-0.55},{"year":"2014","day":129.1,"v":-0.71},{"year":"2014","day":134.5,"v":-0.57},{"year":"2014","day":140.7,"v":-0.6},{"year":"2014","day":149.1,"v":-0.73},{"year":"2014","day":160,"v":-0.82},{"year":"2014","day":167.3,"v":-0.86},{"year":"2014","day":174.5,"v":-1.02},{"year":"2014","day":181.8,"v":-1.16},{"year":"2014","day":191.6,"v":-1.33},{"year":"2014","day":198.2,"v":-1.67},{"year":"2014","day":204.7,"v":-1.95},{"year":"2014","day":210.9,"v":-2.24},{"year":"2014","day":218.2,"v":-2.39},{"year":"2014","day":225.5,"v":-2.6},{"year":"2014","day":232.7,"v":-2.82},{"year":"2014","day":240,"v":-2.96},{"year":"2014","day":245.5,"v":-3.04},

      {"year":"2011","day":165.5,"v":0},{"year":"2011","day":170.9,"v":-0.26},{"year":"2011","day":174.5,"v":-0.58},{"year":"2011","day":180.7,"v":-0.63},{"year":"2011","day":182.9,"v":-0.82},{"year":"2011","day":186.5,"v":-1.02},{"year":"2011","day":191.6,"v":-1.33},{"year":"2011","day":196.4,"v":-1.59},{"year":"2011","day":203.6,"v":-1.95},{"year":"2011","day":210.9,"v":-2.17},{"year":"2011","day":218.2,"v":-2.31},{"year":"2011","day":225.5,"v":-2.49},{"year":"2011","day":234.5,"v":-2.75},{"year":"2011","day":243.6,"v":-3.0},{"year":"2011","day":250.9,"v":-3.18},{"year":"2011","day":256.4,"v":-3.25},

      {"year":"2009","day":129.8,"v":0},{"year":"2009","day":136.4,"v":-0.19},{"year":"2009","day":143.6,"v":-0.4},{"year":"2009","day":150.9,"v":-0.58},{"year":"2009","day":160,"v":-0.73},{"year":"2009","day":169.1,"v":-0.87},{"year":"2009","day":175.6,"v":-0.99},{"year":"2009","day":179.3,"v":-1.11},{"year":"2009","day":185.5,"v":-1.3},{"year":"2009","day":192.7,"v":-1.52},{"year":"2009","day":201.8,"v":-1.74},{"year":"2009","day":210.9,"v":-1.95},{"year":"2009","day":220,"v":-2.1},{"year":"2009","day":231.6,"v":-2.22},{"year":"2009","day":240,"v":-2.31},{"year":"2009","day":248.4,"v":-2.41},{"year":"2009","day":255.6,"v":-2.46},{"year":"2009","day":264.4,"v":-2.55},{"year":"2009","day":271.6,"v":-2.67},{"year":"2009","day":282.5,"v":-2.83}
    ],
    "endlabels": [
      {"year":"2009","day":287.3,"v":-2.87},{"year":"2010","day":260,"v":-2.72},{"year":"2019","day":244.7,"v":-2.78},{"year":"2007","day":274.5,"v":-3.03},{"year":"2012","day":280,"v":-3.27},{"year":"2005","day":276.4,"v":-3.4},{"year":"2018","day":296.4,"v":-3.41},{"year":"2017","day":259.6,"v":-3.58},{"year":"2008","day":262.5,"v":-3.7},{"year":"2016","day":275.3,"v":-3.68},{"year":"2015","day":280.7,"v":-4.42},{"year":"2006","day":307.3,"v":-5.18},
      {"year":"2022","day":296.4,"v":-2.22},{"year":"2020","day":255.6,"v":-2.93},{"year":"2023","day":280,"v":-3.41},{"year":"2021","day":262.5,"v":-4.64}
    ],
    "toplabels": [
      {"year":"2021","day":80.3,"v":0.46},{"year":"2016","day":85.8,"v":0.46},{"year":"2020","day":91.8,"v":0.46},{"year":"2014","day":96.4,"v":0.46},{"year":"2015","day":100,"v":0.46},{"year":"2018","day":103.6,"v":0.46},{"year":"2019","day":106.2,"v":0.46},{"year":"2006","day":109.1,"v":0.46},{"year":"2023","day":112.7,"v":0.46},{"year":"2007","day":115.6,"v":0.46},{"year":"2017","day":117.8,"v":0.46},{"year":"2008","day":119.6,"v":0.46},{"year":"2012","day":122.5,"v":0.46},{"year":"2009","day":125.8,"v":0.46},{"year":"2022","day":134.5,"v":0.46},{"year":"2005","day":141.8,"v":0.46},{"year":"2010","day":160,"v":0.46},{"year":"2020","day":160.5,"v":0.46}
    ],
    "note": [
      {"t":"Note 2021","day":20.7,"v":-1.43},{"t":"-earliest start","day":20.7,"v":-1.84},{"t":"of upwelling","day":20.7,"v":-2.26},{"t":"in 38 years","day":20.7,"v":-2.67}
    ],
    "arrow": [{"day":46.2,"v":-0.89,"day2":75.2,"v2":-0.05}],
    "arrowhead": [{"day":74.7,"v":-0.055}]
  },
  "layer": [
    {
      "data": {"name": "lines"},
      "transform": [{"filter": {"not": {"field": "year", "oneOf": ["2005","2006","2007","2008","2009","2010","2011","2012","2014","2015","2016","2017","2018","2019","2020","2021","2022","2023"]}}}],
      "mark": {"type": "line", "strokeWidth": 1.6, "color": "#b5b5b5"},
      "encoding": {
        "x": {"field": "day", "type": "quantitative", "scale": {"domain": [0, 365], "nice": false, "zero": false},
          "axis": {"orient": "bottom", "values": [0,30,60,90,120,150,180,210,240,270,300,330,360], "labelExpr": "datum.value % 60 === 0 ? '' + datum.value : ''", "tickSize": {"condition": {"test": "datum.value % 60 === 0", "value": -12}, "value": -7}, "labelPadding": 26, "title": "Yearday", "titlePadding": 6}},
        "y": {"field": "v", "type": "quantitative", "scale": {"domain": [-6, 0.75], "nice": false, "zero": false},
          "axis": {"values": [-6,-5,-4,-3,-2,-1,0], "labelExpr": "datum.value % 2 === 0 ? '' + datum.value : ''", "tickSize": {"condition": {"test": "datum.value % 2 === 0", "value": -12}, "value": -7}, "labelPadding": {"condition": {"test": "datum.value % 2 === 0", "value": 25}, "value": 20}, "title": "Cumulative wind stress (Nm⁻²days)", "titlePadding": 18}},
        "detail": {"field": "year", "type": "nominal"}
      }
    },
    {
      "data": {"name": "lines"},
      "transform": [{"filter": {"field": "year", "oneOf": ["2005","2006","2007","2008","2009","2010","2011","2012","2014","2015","2016","2017","2018","2019","2021"]}}],
      "mark": {"type": "line", "strokeWidth": 2.6},
      "encoding": {
        "x": {"field": "day", "type": "quantitative", "axis": null},
        "y": {"field": "v", "type": "quantitative", "axis": null},
        "color": {"field": "year", "type": "nominal", "legend": null, "scale": {"domain": ["2005","2006","2007","2008","2009","2010","2011","2012","2014","2015","2016","2017","2018","2019","2020","2021","2022","2023"], "range": ["#00f0ff","#00ff00","#ff00ff","#0000ff","#2e8b2e","#ff0000","#87ceeb","#2f4f4f","#87ceeb","#a52a2a","#a020f0","#ff0000","#ffa500","#ffff00","#000000","#000000","#228b22","#228b22"]}}
      }
    },
    {
      "data": {"name": "lines"},
      "transform": [{"filter": {"field": "year", "equal": "2022"}}],
      "mark": {"type": "line", "strokeWidth": 3.2},
      "encoding": {
        "x": {"field": "day", "type": "quantitative", "axis": null},
        "y": {"field": "v", "type": "quantitative", "axis": null},
        "color": {"field": "year", "type": "nominal", "legend": null, "scale": {"domain": ["2005","2006","2007","2008","2009","2010","2011","2012","2014","2015","2016","2017","2018","2019","2020","2021","2022","2023"], "range": ["#00f0ff","#00ff00","#ff00ff","#0000ff","#2e8b2e","#ff0000","#87ceeb","#2f4f4f","#87ceeb","#a52a2a","#a020f0","#ff0000","#ffa500","#ffff00","#000000","#000000","#228b22","#228b22"]}}
      }
    },
    {
      "data": {"name": "lines"},
      "transform": [{"filter": {"field": "year", "equal": "2020"}}],
      "mark": {"type": "line", "strokeWidth": 3.4},
      "encoding": {
        "x": {"field": "day", "type": "quantitative", "axis": null},
        "y": {"field": "v", "type": "quantitative", "axis": null},
        "color": {"field": "year", "type": "nominal", "legend": null, "scale": {"domain": ["2005","2006","2007","2008","2009","2010","2011","2012","2014","2015","2016","2017","2018","2019","2020","2021","2022","2023"], "range": ["#00f0ff","#00ff00","#ff00ff","#0000ff","#2e8b2e","#ff0000","#87ceeb","#2f4f4f","#87ceeb","#a52a2a","#a020f0","#ff0000","#ffa500","#ffff00","#000000","#000000","#228b22","#228b22"]}}
      }
    },
    {
      "data": {"name": "lines"},
      "transform": [{"filter": {"field": "year", "equal": "2023"}}],
      "mark": {"type": "line", "strokeWidth": 6},
      "encoding": {
        "x": {"field": "day", "type": "quantitative", "axis": null},
        "y": {"field": "v", "type": "quantitative", "axis": null},
        "color": {"field": "year", "type": "nominal", "legend": null, "scale": {"domain": ["2005","2006","2007","2008","2009","2010","2011","2012","2014","2015","2016","2017","2018","2019","2020","2021","2022","2023"], "range": ["#00f0ff","#00ff00","#ff00ff","#0000ff","#2e8b2e","#ff0000","#87ceeb","#2f4f4f","#87ceeb","#a52a2a","#a020f0","#ff0000","#ffa500","#ffff00","#000000","#000000","#228b22","#228b22"]}}
      }
    },
    {
      "data": {"name": "endlabels"},
      "transform": [{"filter": {"not": {"field": "year", "oneOf": ["2020","2021","2022","2023"]}}}],
      "mark": {"type": "text", "align": "left", "baseline": "middle", "font": "Liberation Sans", "fontSize": 29},
      "encoding": {
        "x": {"field": "day", "type": "quantitative", "axis": null},
        "y": {"field": "v", "type": "quantitative", "axis": null},
        "text": {"field": "year"},
        "color": {"field": "year", "type": "nominal", "legend": null, "scale": {"domain": ["2005","2006","2007","2008","2009","2010","2011","2012","2014","2015","2016","2017","2018","2019","2020","2021","2022","2023"], "range": ["#00f0ff","#00ff00","#ff00ff","#0000ff","#2e8b2e","#ff0000","#87ceeb","#2f4f4f","#87ceeb","#a52a2a","#a020f0","#ff0000","#ffa500","#ffff00","#000000","#000000","#228b22","#228b22"]}}
      }
    },
    {
      "data": {"name": "endlabels"},
      "transform": [{"filter": {"field": "year", "oneOf": ["2020","2021","2022","2023"]}}],
      "mark": {"type": "text", "align": "left", "baseline": "middle", "font": "Liberation Sans", "fontSize": 29, "fontWeight": "bold"},
      "encoding": {
        "x": {"field": "day", "type": "quantitative", "axis": null},
        "y": {"field": "v", "type": "quantitative", "axis": null},
        "text": {"field": "year"},
        "color": {"field": "year", "type": "nominal", "legend": null, "scale": {"domain": ["2005","2006","2007","2008","2009","2010","2011","2012","2014","2015","2016","2017","2018","2019","2020","2021","2022","2023"], "range": ["#00f0ff","#00ff00","#ff00ff","#0000ff","#2e8b2e","#ff0000","#87ceeb","#2f4f4f","#87ceeb","#a52a2a","#a020f0","#ff0000","#ffa500","#ffff00","#000000","#000000","#228b22","#228b22"]}}
      }
    },
    {
      "data": {"name": "toplabels"},
      "mark": {"type": "text", "align": "left", "baseline": "middle", "angle": 90, "font": "Liberation Sans", "fontSize": 21},
      "encoding": {
        "x": {"field": "day", "type": "quantitative",
          "axis": {"orient": "top", "values": [0,30.4167,60.8333,91.25,121.6667,152.0833,182.5,212.9167,243.3333,273.75,304.1667,334.5833], "labelExpr": "['J','F','M','A','M','J','J','A','S','O','N','D'][round(datum.value/30.4167)]", "labelOffset": 41.8, "tickSize": {"condition": {"test": "round(datum.value/30.4167) % 2 === 0", "value": -12}, "value": -7}, "labelPadding": {"condition": {"test": "round(datum.value/30.4167) % 2 === 0", "value": 23}, "value": 18}, "title": "1985-2023", "titlePadding": 22}},
        "y": {"field": "v", "type": "quantitative", "axis": null},
        "text": {"field": "year"},
        "color": {"field": "year", "type": "nominal", "legend": null, "scale": {"domain": ["2005","2006","2007","2008","2009","2010","2011","2012","2014","2015","2016","2017","2018","2019","2020","2021","2022","2023"], "range": ["#00f0ff","#00ff00","#ff00ff","#0000ff","#2e8b2e","#ff0000","#87ceeb","#2f4f4f","#87ceeb","#a52a2a","#a020f0","#ff0000","#ffa500","#ffff00","#000000","#000000","#228b22","#228b22"]}}
      }
    },
    {
      "data": {"name": "note"},
      "mark": {"type": "text", "align": "left", "baseline": "middle", "font": "Open Sans", "fontSize": 41, "color": "#0b3bff"},
      "encoding": {
        "x": {"field": "day", "type": "quantitative", "axis": null},
        "y": {"field": "v", "type": "quantitative", "axis": null},
        "text": {"field": "t"}
      }
    },
    {
      "data": {"name": "arrow"},
      "mark": {"type": "rule", "color": "#ed7d31", "strokeWidth": 2},
      "encoding": {
        "x": {"field": "day", "type": "quantitative", "axis": null},
        "y": {"field": "v", "type": "quantitative", "axis": null},
        "x2": {"field": "day2"},
        "y2": {"field": "v2"}
      }
    },
    {
      "data": {"name": "arrowhead"},
      "mark": {"type": "point", "shape": "triangle-up", "angle": 34, "size": 160, "filled": true, "color": "#ed7d31", "opacity": 1},
      "encoding": {
        "x": {"field": "day", "type": "quantitative", "axis": null},
        "y": {"field": "v", "type": "quantitative", "axis": null}
      }
    }
  ],
  "resolve": {"axis": {"x": "independent", "y": "independent"}}
}
